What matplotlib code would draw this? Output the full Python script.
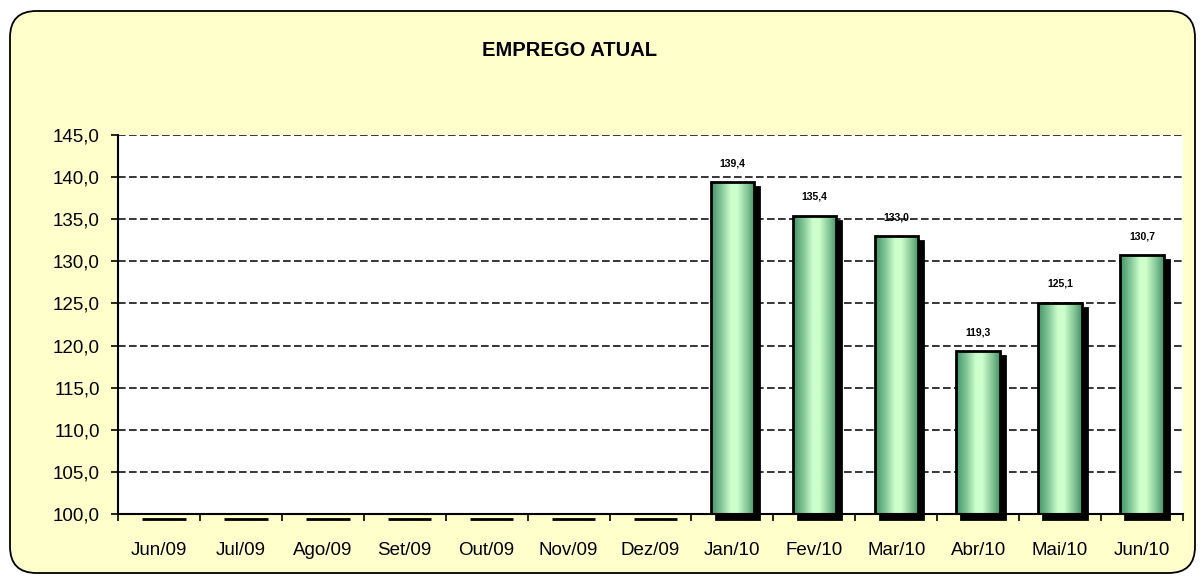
import matplotlib
matplotlib.use("Agg")
import matplotlib.pyplot as plt
import numpy as np
from matplotlib.patches import FancyBboxPatch, Rectangle
from matplotlib.colors import LinearSegmentedColormap
import matplotlib.transforms as mtransforms

plt.rcParams['font.family'] = ['Liberation Sans', 'DejaVu Sans']

months = ["Jun/09", "Jul/09", "Ago/09", "Set/09", "Out/09", "Nov/09", "Dez/09",
          "Jan/10", "Fev/10", "Mar/10", "Abr/10", "Mai/10", "Jun/10"]
values = [None, None, None, None, None, None, None,
          139.4, 135.4, 133.0, 119.3, 125.1, 130.7]
value_labels = ["", "", "", "", "", "", "",
                "139,4", "135,4", "133,0", "119,3", "125,1", "130,7"]
title = "EMPREGO ATUAL"
y_min, y_max, y_step = 100.0, 145.0, 5.0

W, H = 1201, 581
fig = plt.figure(figsize=(W / 100, H / 100), dpi=100)
fig.patch.set_facecolor("white")

# outer rounded panel
panel = FancyBboxPatch((10 / W, 8 / H), (1185 / W), (562 / H),
                       boxstyle="round,pad=0,rounding_size=0.022",
                       transform=fig.transFigure, facecolor="#FFFFCC",
                       edgecolor="black", linewidth=1.3,
                       mutation_aspect=W / H, zorder=-10)
fig.patches.append(panel)

ax = fig.add_axes([118 / W, 1 - 514 / H, (1183 - 118) / W, (514 - 135) / H])
ax.set_zorder(1)
ax.set_facecolor("white")
n = len(months)
x = np.arange(n)
ax.set_xlim(-0.5, n - 0.5)
ax.set_ylim(y_min, y_max)

yticks = np.arange(y_min, y_max + 0.001, y_step)
ax.set_yticks(yticks)
ax.set_yticklabels([f"{v:.1f}".replace(".", ",") for v in yticks], fontsize=13.5)
for yt in yticks[1:]:
    ax.axhline(yt, color="black", linestyle=(0, (5, 2.2)), linewidth=1.1, zorder=1)

ax.set_xticks(x)
ax.set_xticklabels(months, fontsize=13.5)
ax.tick_params(axis="x", which="major", length=0, pad=20)
ax.set_xticks(np.arange(-0.5, n, 1.0), minor=True)
ax.tick_params(axis="x", which="minor", length=5, width=1.2, direction="out")
ax.tick_params(axis="y", length=5, width=1.2, direction="out", pad=8)

for s in ["top", "right"]:
    ax.spines[s].set_visible(False)
ax.spines["left"].set_linewidth(1.5)
ax.spines["bottom"].set_linewidth(1.5)
ax.spines["bottom"].set_zorder(6)

cmap = LinearSegmentedColormap.from_list(
    "g", [(0.0, "#3f9467"), (0.25, "#86c99a"), (0.45, "#ccffcc"),
          (0.6, "#ccffcc"), (0.85, "#7dbf90"), (1.0, "#3f9467")])
grad = np.linspace(0, 1, 256).reshape(1, -1)

bw = 0.53
shadow = mtransforms.offset_copy(ax.transData, fig=fig, x=5, y=-5, units="dots")
for xi, v, lab in zip(x, values, value_labels):
    top = v if v is not None else y_min
    # shadow
    ax.add_patch(Rectangle((xi - bw / 2, y_min), bw, top - y_min, transform=shadow,
                           facecolor="black", edgecolor="black", linewidth=2.0,
                           zorder=3, clip_on=False))
    if v is None:
        continue
    im = ax.imshow(grad, extent=(xi - bw / 2, xi + bw / 2, y_min, v), cmap=cmap,
                   aspect="auto", zorder=4, interpolation="bilinear")
    rect = Rectangle((xi - bw / 2, y_min), bw, v - y_min, facecolor="none",
                     edgecolor="black", linewidth=2.0, zorder=5)
    ax.add_patch(rect)
    im.set_clip_path(rect)
    ax.annotate(lab, (xi, v), xytext=(0, 10), textcoords="offset points",
                ha="center", va="bottom", fontsize=7.5, fontweight="bold", zorder=7)

ax.set_xlim(-0.5, n - 0.5)
ax.set_ylim(y_min, y_max)

fig.text(570 / W, 1 - 50 / H, title, ha="center", va="center",
         fontsize=14.5, fontweight="bold")

fig.savefig("out.png", dpi=100)
